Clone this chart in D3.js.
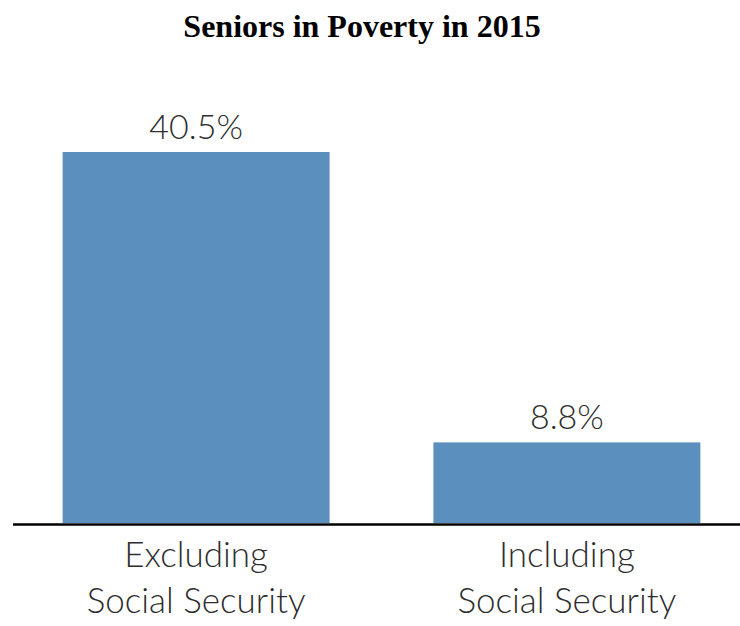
<!DOCTYPE html>
<html>
<head>
<meta charset="utf-8">
<script src="https://cdn.jsdelivr.net/npm/d3@7"></script>
<style>
  html, body { margin: 0; padding: 0; background: #fff; }
  svg { display: block; }
</style>
</head>
<body>
<svg id="chart" width="740" height="626"></svg>
<script>
const title = "Seniors in Poverty in 2015";
const categories = ["Excluding Social Security", "Including Social Security"];
const categoryLines = [["Excluding", "Social Security"], ["Including", "Social Security"]];
const values = [40.5, 8.8];
const valueLabels = ["40.5%", "8.8%"];

const svg = d3.select("#chart");
const W = 740, H = 626;
const baseline = 523;

const x = d3.scaleBand()
  .domain(categories)
  .range([20, 743])
  .paddingInner(0.28)
  .paddingOuter(0.115);

const y = d3.scaleLinear()
  .domain([0, 50])
  .range([baseline, baseline - 458]);

svg.append("text")
  .attr("x", 362)
  .attr("y", 37)
  .attr("text-anchor", "middle")
  .style("font-family", "'Liberation Serif', 'Times New Roman', serif")
  .style("font-weight", "bold")
  .style("font-size", "32px")
  .style("fill", "#000")
  .text(title);

svg.append("g")
  .selectAll("rect")
  .data(values)
  .join("rect")
  .attr("x", (d, i) => x(categories[i]))
  .attr("y", d => y(d))
  .attr("width", x.bandwidth())
  .attr("height", d => y(0) - y(d))
  .attr("fill", "#5b8fbd");

const labelFont = "Lato, 'Open Sans', sans-serif";

svg.append("g")
  .selectAll("text")
  .data(values)
  .join("text")
  .attr("x", (d, i) => x(categories[i]) + x.bandwidth() / 2)
  .attr("y", d => y(d) - 13)
  .attr("text-anchor", "middle")
  .style("font-family", labelFont)
  .style("font-weight", 300)
  .style("font-size", "34px")
  .style("fill", "#2e2e2e")
  .text((d, i) => valueLabels[i]);

// axis
const axis = d3.axisBottom(x).tickSize(0).tickFormat(() => "");
const gAxis = svg.append("g")
  .attr("transform", `translate(0,${baseline})`)
  .call(axis);
gAxis.select(".domain").remove();

gAxis.selectAll(".tick text").each(function(d, i) {
  const t = d3.select(this);
  t.text(null)
    .attr("y", 0)
    .attr("dy", null)
    .style("font-family", labelFont)
    .style("font-weight", 300)
    .style("font-size", "35px")
    .style("fill", "#2e2e2e");
  categoryLines[categories.indexOf(d)].forEach((line, j) => {
    t.append("tspan")
      .attr("x", 0)
      .attr("y", 44 + j * 46)
      .text(line);
  });
});

svg.append("line")
  .attr("x1", 13)
  .attr("x2", W)
  .attr("y1", baseline + 1.5)
  .attr("y2", baseline + 1.5)
  .attr("stroke", "#000")
  .attr("stroke-width", 2.5);
</script>
</body>
</html>
